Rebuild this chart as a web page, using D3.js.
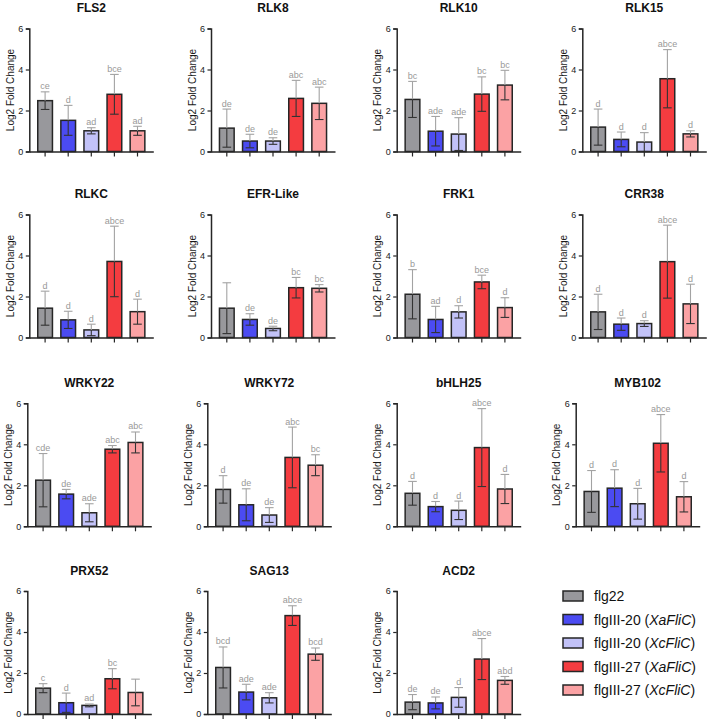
<!DOCTYPE html>
<html><head><meta charset="utf-8">
<script src="https://cdn.jsdelivr.net/npm/d3@7"></script>
<style>
html,body{margin:0;padding:0;background:#fff;}
svg{display:block;font-family:Arial,"Liberation Sans",sans-serif;}
</style></head>
<body>
<svg id="chart" width="709" height="722"></svg>
<script>
// ---------- DATA ----------
const genes = ["FLS2","RLK8","RLK10","RLK15","RLKC","EFR-Like","FRK1","CRR38",
               "WRKY22","WRKY72","bHLH25","MYB102","PRX52","SAG13","ACD2"];
const groups = ["flg22","flgIII-20 (XaFliC)","flgIII-20 (XcFliC)","flgIII-27 (XaFliC)","flgIII-27 (XcFliC)"];
const means = [
  [2.48,1.52,1.01,2.79,1.01],
  [1.14,0.51,0.51,2.59,2.35],
  [2.54,0.99,0.85,2.80,3.24],
  [1.19,0.59,0.46,3.55,0.86],
  [1.43,0.86,0.37,3.71,1.26],
  [1.43,0.88,0.44,2.43,2.40],
  [2.11,0.88,1.25,2.71,1.46],
  [1.25,0.65,0.68,3.70,1.64],
  [2.25,1.57,0.66,3.76,4.09],
  [1.80,1.05,0.55,3.36,2.98],
  [1.61,0.96,0.78,3.84,1.82],
  [1.70,1.86,1.10,4.05,1.44],
  [1.26,0.55,0.42,1.72,1.05],
  [2.27,1.07,0.79,4.80,2.92],
  [0.58,0.54,0.81,2.68,1.64]
];
const errs = [
  [0.43,0.73,0.15,0.97,0.22],
  [0.93,0.33,0.16,0.88,0.79],
  [0.88,0.72,0.80,0.84,0.72],
  [0.88,0.36,0.46,1.42,0.15],
  [0.83,0.42,0.28,1.72,0.61],
  [1.24,0.28,0.11,0.50,0.18],
  [1.20,0.64,0.30,0.33,0.48],
  [0.86,0.30,0.14,1.78,0.96],
  [1.30,0.23,0.44,0.18,0.51],
  [0.67,0.78,0.36,1.48,0.51],
  [0.58,0.25,0.45,1.90,0.71],
  [1.02,0.90,0.75,1.40,0.74],
  [0.22,0.47,0.07,0.49,0.65],
  [1.00,0.38,0.25,0.48,0.30],
  [0.37,0.29,0.48,1.00,0.19]
];
const letters = [
  ["ce","d","ad","bce","ad"],
  ["de","de","de","abc","abc"],
  ["bc","ade","ade","bc","bc"],
  ["d","d","d","abce","d"],
  ["d","d","d","abce","d"],
  ["","de","de","bc","bc"],
  ["b","ad","d","bce","d"],
  ["d","d","d","abce","d"],
  ["cde","de","ade","abc","abc"],
  ["d","de","de","abc","bc"],
  ["d","d","d","abce","d"],
  ["d","d","d","abce","d"],
  ["c","d","ad","bc",""],
  ["bcd","ade","ade","abce","bcd"],
  ["de","de","d","abce","abd"]
];
const yTicks = [0,2,4,6];
const yLabel = "Log2 Fold Change";

// ---------- STYLE / LAYOUT ----------
const colors = ["#98989c","#4b4bf2","#c2c2f8","#f43c40","#fba2a4"];
const rowTop = [28.5, 214.5, 403.3, 591];
const colX = [[29.3,211,396.7,582.3],[29.3,211,396.7,582.3],[27.3,207.3,396.7,575.7],[27.3,207.3,396.7,575.7]];
const plotW = 124, plotH = 123;
const dark = "#262626";

const svg = d3.select("#chart");

const x = d3.scaleBand().domain(groups).range([0, plotW]).paddingInner(0.364).paddingOuter(0.366);
const y = d3.scaleLinear().domain([0, 6]).range([plotH, 0]);

genes.forEach((gene, gi) => {
  const r = Math.floor(gi / 4), c = gi % 4;
  const g = svg.append("g").attr("transform", `translate(${colX[r][c]},${rowTop[r]})`);

  // title
  g.append("text").attr("x", plotW/2).attr("y", -16.5).attr("text-anchor","middle")
    .attr("font-size", 12).attr("font-weight","bold").attr("fill","#111").text(gene);

  // y label
  g.append("text").attr("transform", `translate(-19,${plotH/2}) rotate(-90)`)
    .attr("text-anchor","middle").attr("dy","0.35em").attr("font-size",10).attr("fill","#1a1a1a").text(yLabel);

  const rows = groups.map((grp, i) => ({grp, m: means[gi][i], e: errs[gi][i], l: letters[gi][i], col: colors[i]}));

  // bars
  g.selectAll("rect.bar").data(rows).enter().append("rect").attr("class","bar")
    .attr("x", d => x(d.grp)).attr("width", x.bandwidth())
    .attr("y", d => y(d.m)).attr("height", d => y(0) - y(d.m))
    .attr("fill", d => d.col).attr("stroke", dark).attr("stroke-width", 1.5);

  const cx = d => x(d.grp) + x.bandwidth()/2;
  const capW = 4.3;
  // upper error (light gray)
  const up = g.selectAll("g.up").data(rows).enter().append("g").attr("stroke","#a3a3a3").attr("stroke-width",1.1);
  up.append("line").attr("x1",cx).attr("x2",cx).attr("y1",d=>y(d.m)).attr("y2",d=>y(d.m+d.e));
  up.append("line").attr("x1",d=>cx(d)-capW).attr("x2",d=>cx(d)+capW).attr("y1",d=>y(d.m+d.e)).attr("y2",d=>y(d.m+d.e));
  // lower error (dark)
  const lo = g.selectAll("g.lo").data(rows).enter().append("g").attr("stroke","#333").attr("stroke-width",1.1);
  lo.append("line").attr("x1",cx).attr("x2",cx).attr("y1",d=>y(d.m)).attr("y2",d=>y(Math.max(0,d.m-d.e)));
  lo.append("line").attr("x1",d=>cx(d)-capW).attr("x2",d=>cx(d)+capW).attr("y1",d=>y(Math.max(0,d.m-d.e))).attr("y2",d=>y(Math.max(0,d.m-d.e)));

  // letters
  g.selectAll("text.let").data(rows).enter().append("text").attr("class","let")
    .attr("x", cx).attr("y", d => y(d.m+d.e) - 2.5).attr("text-anchor","middle")
    .attr("font-size", 9).attr("fill","#999").text(d => d.l);

  // axes
  const ya = g.append("g").call(d3.axisLeft(y).tickValues(yTicks).tickSize(3.5).tickPadding(2.5).tickFormat(d3.format("d")));
  ya.select(".domain").attr("stroke", dark).attr("stroke-width",1.5);
  ya.selectAll(".tick line").attr("stroke", dark).attr("stroke-width",1.2);
  ya.selectAll(".tick text").attr("font-size",9).attr("fill","#1a1a1a").attr("font-family","Arial,'Liberation Sans',sans-serif");

  const xa = g.append("g").attr("transform",`translate(0,${plotH})`).call(d3.axisBottom(x).tickSize(5).tickSizeOuter(0).tickFormat(""));
  xa.select(".domain").attr("stroke", dark).attr("stroke-width",1.5);
  xa.selectAll(".tick line").attr("stroke", dark).attr("stroke-width",1.2);
});

// legend
const legY0 = 596, legStep = 23.5;
const leg = svg.append("g").attr("transform","translate(563,0)");
groups.forEach((grp, i) => {
  const yy = legY0 + i*legStep;
  leg.append("rect").attr("x",0).attr("y",yy-5).attr("width",20).attr("height",10)
    .attr("fill",colors[i]).attr("stroke",dark).attr("stroke-width",1.5);
  const t = leg.append("text").attr("x",31).attr("y",yy).attr("dy","0.36em")
    .attr("font-size",14).attr("fill","#111");
  const m = grp.match(/^(\S+)\s*\((.*)\)$/);
  if (m) {
    t.append("tspan").text(m[1] + "  (");
    t.append("tspan").attr("font-style","italic").text(m[2]);
    t.append("tspan").text(")");
  } else {
    t.text(grp);
  }
});
</script>
</body></html>
